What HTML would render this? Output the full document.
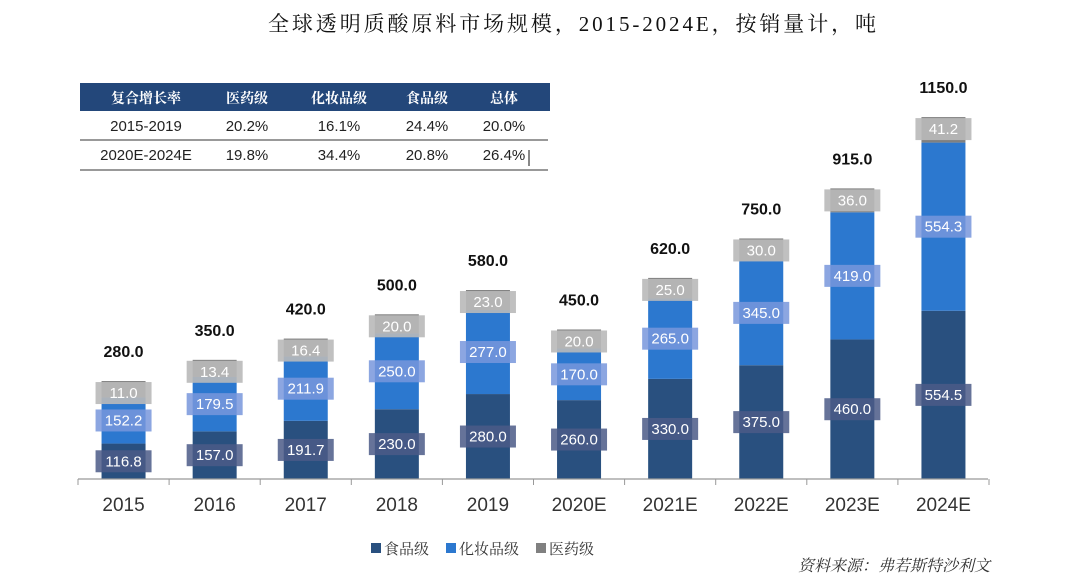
<!DOCTYPE html>
<html><head><meta charset="utf-8"><style>
body{margin:0;background:#fff;font-family:"Liberation Sans","Noto Sans CJK SC",sans-serif;}
#wrap{position:relative;width:1080px;height:587px;overflow:hidden;}
</style></head><body>
<div id="wrap">
<svg id="chart" width="1080" height="587" xmlns="http://www.w3.org/2000/svg">
<text x="572" y="31" text-anchor="middle" font-size="21" font-family="Liberation Serif,Noto Serif CJK SC,serif" fill="#111" textLength="608">全球透明质酸原料市场规模，2015-2024E，按销量计，吨</text>
<g>
<rect x="80" y="83" width="470" height="28" fill="#23477a"/>
<g font-size="14" font-weight="bold" fill="#fff" text-anchor="middle" font-family="Noto Serif CJK SC,serif">
<text x="146" y="103">复合增长率</text>
<text x="247" y="103">医药级</text>
<text x="339" y="103">化妆品级</text>
<text x="427" y="103">食品级</text>
<text x="504" y="103">总体</text>
</g>
<g font-size="15" fill="#222" text-anchor="middle">
<text x="146" y="131">2015-2019</text>
<text x="247" y="131">20.2%</text>
<text x="339" y="131">16.1%</text>
<text x="427" y="131">24.4%</text>
<text x="504" y="131">20.0%</text>
<text x="146" y="160">2020E-2024E</text>
<text x="247" y="160">19.8%</text>
<text x="339" y="160">34.4%</text>
<text x="427" y="160">20.8%</text>
<text x="504" y="160">26.4%</text>
</g>
<line x1="80" y1="140" x2="548" y2="140" stroke="#333" stroke-width="1"/>
<line x1="80" y1="170" x2="548" y2="170" stroke="#333" stroke-width="1"/>
<line x1="529" y1="150" x2="529" y2="166" stroke="#111" stroke-width="1"/>
</g>
<g id="bars"></g>
<line x1="78" y1="479" x2="988" y2="479" stroke="#999" stroke-width="1.2"/>
<g id="xticks"></g>
<g font-size="15" fill="#333" font-family="Noto Serif CJK SC,serif">
<rect x="371" y="543" width="10" height="10" fill="#29507f"/>
<text x="384" y="554">食品级</text>
<rect x="446" y="543" width="10" height="10" fill="#2c78cf"/>
<text x="459" y="554">化妆品级</text>
<rect x="536" y="543" width="10" height="10" fill="#808080"/>
<text x="549" y="554">医药级</text>
</g>
<text x="990" y="571" text-anchor="end" font-size="16" font-style="italic" fill="#333" font-family="Noto Serif CJK SC,serif">资料来源：弗若斯特沙利文</text>
</svg>
</div>
<script>
const categories=["2015","2016","2017","2018","2019","2020E","2021E","2022E","2023E","2024E"];
const foodValues=[116.8,157.0,191.7,230.0,280.0,260.0,330.0,375.0,460.0,554.5];
const cosmeticValues=[152.2,179.5,211.9,250.0,277.0,170.0,265.0,345.0,419.0,554.3];
const medicalValues=[11.0,13.4,16.4,20.0,23.0,20.0,25.0,30.0,36.0,41.2];
const totalValues=[280.0,350.0,420.0,500.0,580.0,450.0,620.0,750.0,915.0,1150.0];
const NS="http://www.w3.org/2000/svg";
const base=479,scale=0.3034,topPad=13,x0=78,step=91.1,bw=44;
function xC(i){return x0+step*(i+0.5);}
function yV(v){return base-v*scale;}
function mk(tag,attrs,parent){const e=document.createElementNS(NS,tag);for(const k in attrs)e.setAttribute(k,attrs[k]);parent.appendChild(e);return e;}
const bars=document.getElementById('bars'),xt=document.getElementById('xticks');
const series=[[foodValues,"#29507f","rgba(75,90,135,0.85)","food"],[cosmeticValues,"#2c78cf","rgba(120,150,220,0.85)","cosmetic"],[medicalValues,"#808080","rgba(185,185,185,0.9)","medical"]];
categories.forEach((c,i)=>{
  let cum=0;const cx=xC(i);
  const g=mk('g',{},bars);
  
  
  const labels=[];
  series.forEach(s=>{
    const v=s[0][i];const y1=yV(cum);let y2=yV(cum+v);
    if(s[3]==="medical")y2-=topPad;
    const r=mk('rect',{x:cx-bw/2,y:y2,width:bw,height:y1-y2,fill:s[1]},g);
    
    
    labels.push([v,(y1+y2)/2,s[2],s[3]]);
    cum+=v;
  });
  const topY=yV(totalValues[i])-topPad;
  labels.forEach(l=>{
    const ly=l[3]==="medical"?topY+12:l[1];
    const b=mk('rect',{x:cx-28,y:ly-11,width:56,height:22,fill:l[2]},g);
    
    
    const t=mk('text',{x:cx,y:ly+5,'text-anchor':'middle','font-size':15,fill:'#fff'},g);
    t.textContent=l[0].toFixed(1);
    
    
  });
  const tt=mk('text',{x:cx,y:topY-24,'text-anchor':'middle','font-size':16,'font-weight':'bold',fill:'#111'},g);
  tt.textContent=totalValues[i].toFixed(1);
  
  
  const tl=mk('text',{x:cx,y:511,'text-anchor':'middle','font-size':19,fill:'#333'},xt);
  tl.textContent=c;
  
  
});
for(let i=0;i<=categories.length;i++){
  const tk=mk('line',{x1:x0+step*i,y1:479,x2:x0+step*i,y2:485,stroke:'#999'},xt);
  
  
}
</script>
</body></html>
